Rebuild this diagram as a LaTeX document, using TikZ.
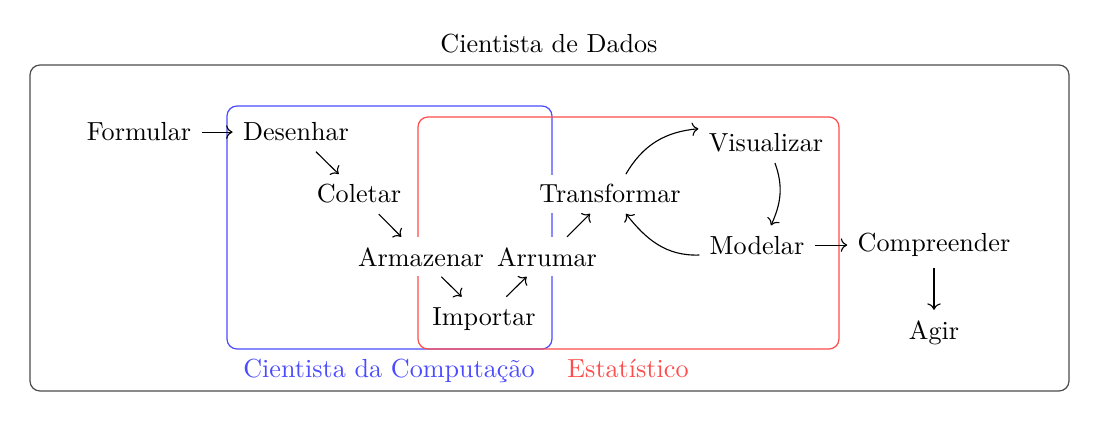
\documentclass[tikz,border=0pt]{standalone}
\usetikzlibrary{arrows.meta}
\begin{document}
\begin{tikzpicture}[x=0.4016pt,y=-0.4016pt,
  every node/.style={font=\fontsize{10.5}{12.6}\selectfont},
  lbl/.style={anchor=base, inner sep=4pt, fill=white},
  arr/.style={->, line width=0.45pt},
  frame/.style={rounded corners=4pt, line width=0.5pt}]
\useasboundingbox (0,0) rectangle (1098,421);
% frames
\draw[frame, black!70] (30,65) rectangle (1069,391);
\draw[frame, blue!70] (227,106) rectangle (552,349);
\draw[frame, red!70] (418,117) rectangle (839,349);
% labels
\node[anchor=base] (title) at (549,53) {Cientista de Dados};
\node[anchor=base, text=blue!70] (cc) at (389,377) {Cientista da Computação};
\node[anchor=base, text=red!70] (est) at (628,377) {Estatístico};
% steps
\node[lbl] (formular) at (139,141) {Formular};
\node[lbl] (desenhar) at (296,141) {Desenhar};
\node[lbl] (coletar) at (359,203) {Coletar};
\node[lbl] (armazenar) at (421,266) {Armazenar};
\node[lbl] (importar) at (484,325) {Importar};
\node[lbl] (arrumar) at (547,266) {Arrumar};
\node[lbl] (transformar) at (610,203) {Transformar};
\node[lbl] (visualizar) at (766,152) {Visualizar};
\node[lbl] (modelar) at (757,254) {Modelar};
\node[lbl] (compreender) at (934,252) {Compreender};
\node[lbl] (agir) at (934,339) {Agir};
% connectors
\draw[arr] (formular) -- (desenhar);
\draw[arr] (desenhar) -- (coletar);
\draw[arr] (coletar) -- (armazenar);
\draw[arr] (armazenar) -- (importar);
\draw[arr] (importar) -- (arrumar);
\draw[arr] (arrumar) -- (transformar);
\draw[arr] ([xshift=6.4pt]transformar.north) to[out=60,in=185] ([yshift=5.8pt]visualizar.west);
\draw[arr] ([xshift=3.6pt]visualizar.south) to[out=-70,in=65] ([xshift=5.6pt]modelar.north);
\draw[arr] ([yshift=-4pt]modelar.west) to[out=182,in=-52] ([xshift=6.4pt]transformar.south);
\draw[arr] (modelar.east) -- (modelar.east -| compreender.west);
\draw[arr] (compreender) -- (agir);
\end{tikzpicture}
\end{document}
